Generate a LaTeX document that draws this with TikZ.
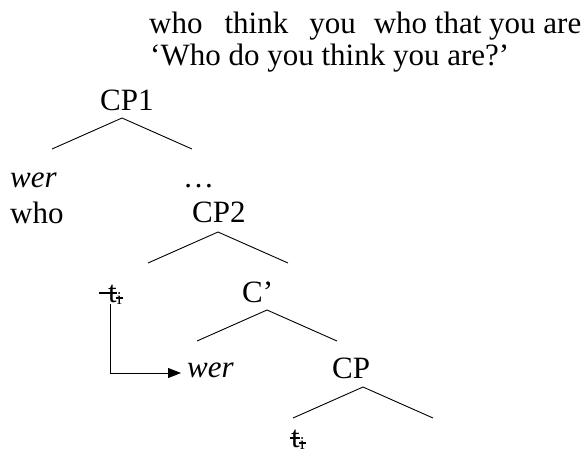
\documentclass[tikz,border=0pt]{standalone}
\usepackage{fontspec}
\setmainfont{Liberation Serif}
\usepackage{tikz}
\usetikzlibrary{arrows.meta}

\newcommand{\branch}[1]{\draw[edge] (#1) ++(-70,31) -- (#1) -- ++(70,31);}
\newcommand{\tracei}{t\raisebox{-2pt}{\fontsize{18}{18}\selectfont i}}

\begin{document}
\begin{tikzpicture}[x=1pt, y=-1pt,
        word/.style={anchor=base west, inner sep=0pt, font=\fontsize{31}{34}\selectfont},
        edge/.style={line width=0.9pt},
        strike/.style={line width=1.2pt},
        movearrow/.style={line width=0.9pt, -{Triangle[length=13pt, width=10pt]}}
    ]
        \useasboundingbox (0,0) rectangle (588,453);
        % gloss and translation
        \node[word] (gloss) at (149,33) {who\hspace{22pt}think\hspace{21pt}you\hspace{18pt}who that you are};
        \node[word] (transl) at (150,65) {‘Who do you think you are?’};
        % tree labels
        \node[word] (cpone)   at (100,110) {CP1};
        \node[word] (wer)     at (10,187)  {\itshape wer};
        \node[word] (dots)    at (183,187) {…};
        \node[word] (who)     at (10,223)  {who};
        \node[word] (cptwo)   at (192,222) {CP2};
        \node[word] (traceone) at (108,302) {\tracei};
        \node[word] (cbar)    at (242,302) {C’};
        \node[word] (wertwo)  at (187,377) {\itshape wer};
        \node[word] (cpthree) at (332,378) {CP};
        \node[word] (tracetwo) at (291,447) {\tracei};
        % branching points
        \coordinate (apexone)   at (122,118);
        \coordinate (apextwo)   at (218,232);
        \coordinate (apexbar)   at (267,310);
        \coordinate (apexthree) at (363,387);
        \branch{apexone}
        \branch{apextwo}
        \branch{apexbar}
        \branch{apexthree}
        % struck traces
        \draw[strike] ([shift={(-9pt,9pt)}]traceone.base west) -- ([shift={(-5pt,9pt)}]traceone.base east);
        \draw[strike] ([shift={(-6pt,4pt)}]traceone.base east) -- ([shift={(1pt,4pt)}]traceone.base east);
        \draw[strike] ([shift={(-1pt,9pt)}]tracetwo.base west) -- ([shift={(-5pt,9pt)}]tracetwo.base east);
        \draw[strike] ([shift={(-6pt,4pt)}]tracetwo.base east) -- ([shift={(1pt,4pt)}]tracetwo.base east);
        % movement
        \draw[movearrow] ([xshift=2pt]traceone.south west) |- ([shift={(-6pt,4pt)}]wertwo.base west);
    \end{tikzpicture}
\end{document}
